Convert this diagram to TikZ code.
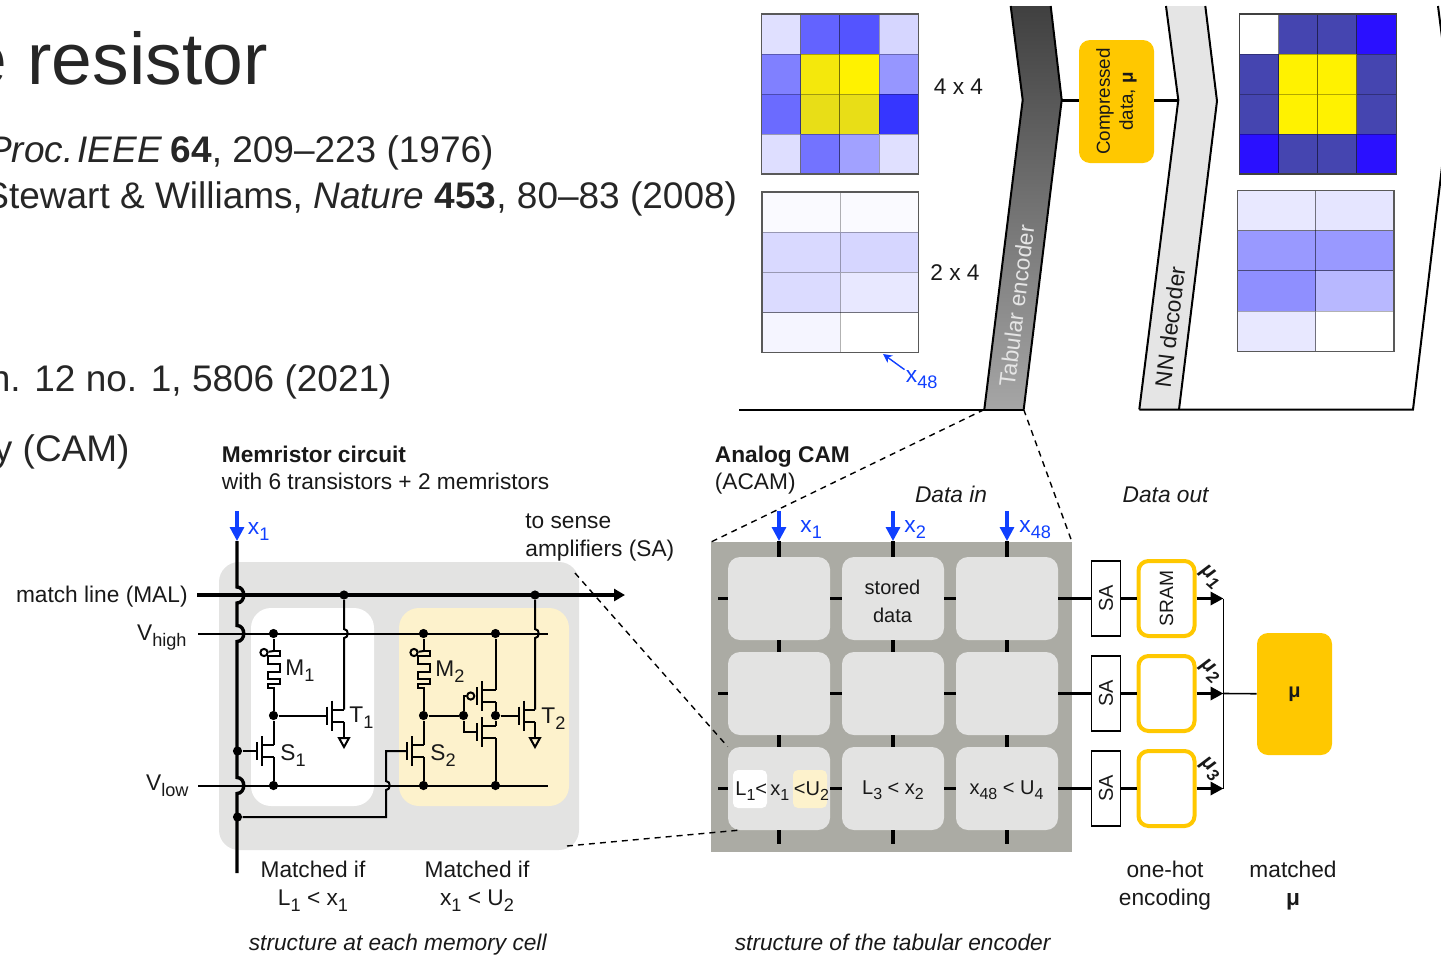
\documentclass[tikz,border=0pt]{standalone}
\usepackage{fontspec}
\setmainfont{Liberation Sans}
\usetikzlibrary{arrows.meta}

\definecolor{arrowblue}{HTML}{1040FF}
\definecolor{camgold}{HTML}{FFC800}
\definecolor{cellpale}{HTML}{FDF2CC}
\definecolor{cellgray}{HTML}{E3E3E2}
\definecolor{panelgray}{HTML}{ABABA4}
\definecolor{deepblue}{HTML}{4545B0}
\definecolor{vividblue}{HTML}{2A10FF}

\tikzset{
  txt/.style={inner sep=0pt,text=black!90,font=\fontsize{11.35}{14}\selectfont},
  smalltxt/.style={txt,font=\fontsize{10}{14}\selectfont},
  slide/.style={inner sep=0pt,text=black!85,font=\fontsize{18.5}{22}\selectfont},
  wire/.style={line width=1pt},
  bus/.style={line width=1.7pt},
  dot/.style={circle,fill=black,inner sep=0pt,minimum size=4.6pt},
  ring/.style={circle,draw,wire,inner sep=0pt,minimum size=3.6pt},
  cell/.style={rounded corners=6pt,fill=cellgray,inner sep=0pt,minimum width=51pt,minimum height=41.5pt},
  sabox/.style={draw,line width=0.9pt,fill=white,inner sep=0pt,minimum width=14.5pt,minimum height=37.5pt},
  srambox/.style={draw=camgold,line width=2pt,rounded corners=5pt,fill=white,inner sep=0pt,minimum width=28pt,minimum height=37.5pt},
  goldbox/.style={fill=camgold,rounded corners=5.5pt,inner sep=0pt,txt},
  bluein/.style={arrowblue,line width=1.6pt,-{Triangle[length=7pt,width=7pt]}},
  outarrow/.style={bus,-{Triangle[length=6.5pt,width=6.5pt]}},
  zoomline/.style={line width=0.7pt,dash pattern=on 3pt off 2.5pt}
}

% lowered index, larger than a plain subscript
\newcommand{\low}[1]{\raisebox{-0.5ex}{\scalebox{0.8}{#1}}}
% gate bar, channel and the two leads: name, channel x, centre y, lead x
\newcommand{\fet}[4]{
  \coordinate (#1g) at (#2-5.5,#3);
  \coordinate (#1d) at (#4,#3-6);
  \coordinate (#1s) at (#4,#3+6);
  \draw[wire] (#2-5.5,#3-9) -- (#2-5.5,#3+9);
  \draw[wire] (#2,#3-15) -- (#2,#3+15);
  \draw[wire] (#2,#3-6) -- (#1d);
  \draw[wire] (#2,#3+6) -- (#1s);
}
% memristor between two junctions at the same x
\newcommand{\memr}[2]{
  \node[ring] (#1ring) at (#2-9.5,652.5) {};
  \draw[wire] (#1top) -- (#2,651) -- (#2+6,651) -- (#2+6,656) -- (#2-6,656) -- (#2-6,664)
    -- (#2+6,664) -- (#2+6,672) -- (#2-6,672) -- (#2-6,679) -- (#2+6,679) -- (#2+6,684)
    -- (#2-6,684) -- (#2-6,688) -- (#2,688) -- (#1mid);
  \draw[wire] (#1ring) -- (#2,651);
}
% ground mark under a lead
\newcommand{\gnd}[2]{
  \draw[wire] (#2) -- (#1,738);
  \draw[wire] (#1-5,738) -- (#1+5,738) -- (#1,747) -- cycle;
}
% colour grid: left, top, cell width, cell height, rows
\newcommand{\heatmap}[5]{
  \foreach \row [count=\j from 0] in {#5}
    \foreach \shade [count=\i from 0] in \row
      \filldraw[fill=\shade,draw=black,draw opacity=0.3,line width=0.45pt]
        (#1+\i*#3,#2+\j*#4) rectangle (#1+\i*#3+#3,#2+\j*#4+#4);
}

\begin{document}
\begin{tikzpicture}[x=0.5pt,y=-0.5pt]
\useasboundingbox (0,0) rectangle (1441,954);
\clip (0,0) rectangle (1441,954);

% slide text behind the figure
\node[slide,font=\fontsize{36.6}{40}\selectfont,anchor=base east] (title) at (268,84) {e resistor};
\node[slide,anchor=base east] (refp) at (74,162) {\textit{Proc.}};
\node[slide,anchor=base east] (refa) at (494,162) {\textit{IEEE}\hspace{-0.05em} \textbf{64}, 209–223 (1976)};
\node[slide,anchor=base east] (refb) at (737.5,208) {Stewart \& Williams, \textit{Nature} \textbf{453}, 80–83 (2008)};
\node[slide,anchor=base east] (refc) at (392,391) {n. 12 no. 1, 5806 (2021)};
\node[slide,anchor=base east] (refd) at (130,461) {y (CAM)};

% heat maps
\heatmap{761.5}{14}{39.2}{40}{{blue!12,blue!61,blue!67,blue!16},{blue!50,yellow!95!black,yellow,blue!41},{blue!58,yellow!90!black,yellow!90!black,blue!79},{blue!13,blue!55,blue!37,blue!12}}
\draw[black!65,line width=0.6pt] (761.5,14) rectangle (918.3,174);
\heatmap{762}{192}{78.2}{40.2}{{blue!2,blue!2},{blue!15,blue!16},{blue!14,blue!9},{blue!4,white}}
\draw[black!65,line width=0.6pt] (762,192) rectangle (918.4,352.8);
\heatmap{1239.3}{14}{39.2}{40}{{white,deepblue,deepblue,vividblue},{deepblue,yellow,yellow,deepblue},{deepblue,yellow,yellow,deepblue},{vividblue,deepblue,deepblue,vividblue}}
\draw[black!75,line width=0.6pt] (1239.3,14) rectangle (1396.1,174);
\heatmap{1237.5}{190.5}{78.2}{40.2}{{blue!9,blue!10},{blue!40,blue!40},{blue!44,blue!28},{blue!9,white}}
\draw[black!65,line width=0.6pt] (1237.5,190.5) rectangle (1393.9,351.3);

\node[txt,anchor=center] (dimA) at (958.5,86.5) {4 x 4};
\node[txt,anchor=center] (dimB) at (955,272.5) {2 x 4};
\node[txt,text=arrowblue,anchor=base west] (lblPix) at (905.5,382) {x\low{48}};
\coordinate (pixTip) at (883,354);
\draw[arrowblue,line width=0.7pt,-{Stealth[length=4.5pt,width=4.5pt]}] (lblPix.north west) ++(-1,0) -- (pixTip);

% encoder, decoder and the outline behind them
\coordinate (encBL) at (984.3,409.5);
\coordinate (encBR) at (1023.7,409.5);
\shade[top color=black!75,bottom color=black!35] (1010.7,6) -- (1050.7,6) -- (1061.7,100) -- (encBR) -- (encBL) -- (1022.7,100) -- cycle;
\draw[wire] (1010.7,6) -- (1022.7,100) -- (encBL);
\draw[wire] (1050.7,6) -- (1061.7,100) -- (encBR);
\node[txt,text=white!90!black,rotate=83] (encLbl) at (1016.5,306) {Tabular encoder};
\fill[black!10] (1166,6) -- (1205.3,6) -- (1217,101) -- (1179,409.5) -- (1139.3,409.5) -- (1178.3,100) -- cycle;
\draw[wire] (1166,6) -- (1178.3,100) -- (1139.3,409.5);
\draw[wire] (1205.3,6) -- (1217,101) -- (1179,409.5);
\node[txt,rotate=83] (decLbl) at (1170,327) {NN decoder};
\draw[wire] (1438,6) -- (1450,100) -- (1413,409.5) -- (1139.3,409.5);
\draw[wire] (739,409.5) -- (encBR);

\node[goldbox,minimum width=37.5pt,minimum height=61.5pt,align=center] (latent) at (1116.5,101.5) {};
\node[smalltxt,rotate=90,align=center,font=\fontsize{9.4}{11.5}\selectfont] (latentLbl) at (1116.5,101.5) {Compressed\\data, \textbf{μ}};
\coordinate (encTip) at (1061.7,100.5);
\coordinate (decNotch) at (1178.3,100.5);
\draw[bus] (encTip) -- (encTip -| latent.west);
\draw[bus] (latent.east |- decNotch) -- (decNotch);

% memory cell
\fill[cellgray,rounded corners=10pt] (219,562) rectangle (579,850);
\fill[white,rounded corners=10pt] (251,608) rectangle (374,806);
\fill[cellpale,rounded corners=10pt] (399,608) rectangle (569,806);

\node[txt,anchor=base west] (circA) at (221.5,462) {\textbf{Memristor circuit}};
\node[txt,anchor=base west] (circB) at (221.5,489) {with 6 transistors + 2 memristors};
\node[txt,anchor=west,align=left] (senseLbl) at (525,537.5) {to sense\\amplifiers (SA)};
\node[txt,anchor=east] (malLbl) at (188,597) {match line (MAL)};
\node[txt,anchor=base east] (highLbl) at (187,640) {V\low{high}};
\node[txt,anchor=base east] (lowLbl) at (189,790) {V\low{low}};

\coordinate (malA) at (197,595);
\coordinate (malB) at (625,595);
\coordinate (highA) at (198,633.5);
\coordinate (highB) at (548,633.5);
\coordinate (lowA) at (198,785.5);
\coordinate (lowB) at (548,785.5);
\draw[bus,-{Triangle[length=5.5pt,width=6pt]}] (malA) -- (malB);
\draw[wire] (highA) -- (highB);
\draw[wire] (lowA) -- (lowB);

% junctions
\node[dot] (malT1) at (344,595) {};
\node[dot] (malT2) at (535,595) {};
\node[dot] (M1top) at (273.5,633.5) {};
\node[dot] (M2top) at (423.5,633.5) {};
\node[dot] (highP) at (495.5,633.5) {};
\node[dot] (M1mid) at (273.5,715.5) {};
\node[dot] (M2mid) at (423.5,715.5) {};
\node[dot] (pairIn) at (463.5,715.5) {};
\node[dot] (pairOut) at (495.5,715.5) {};
\node[dot] (lowS1) at (273.5,785.5) {};
\node[dot] (lowS2) at (423.5,785.5) {};
\node[dot] (lowN) at (495.5,785.5) {};
\node[dot] (gateS1) at (237.5,751) {};
\node[dot] (gateS2) at (237.5,817) {};

% x1 column with its hops
\coordinate (xTop) at (237,511);
\coordinate (xHead) at (237,541);
\coordinate (xEnd) at (237,873);
\draw[bluein] (xTop) -- (xHead);
\node[txt,text=arrowblue,anchor=base west] (xLbl) at (247.5,534) {x\low{1}};
\draw[bus] (xHead) -- (237,587) .. controls (246,587) and (246,603) .. (237,603) -- (237,625.5)
  .. controls (246,625.5) and (246,641.5) .. (237,641.5) -- (237,777.5)
  .. controls (246,777.5) and (246,793.5) .. (237,793.5) -- (xEnd);

\memr{M1}{273.5}
\memr{M2}{423.5}
\fet{S1}{262}{751}{273.5}
\fet{S2}{412}{751}{423.5}
\fet{T1}{332}{715.5}{344}
\fet{T2}{524}{715.5}{535}
\fet{P}{482}{696}{495.5}
\fet{N}{482}{732}{495.5}
\node[ring] (Pring) at (470.7,696) {};

\draw[wire] (M1mid) -- (S1d);
\draw[wire] (S1s) -- (lowS1);
\draw[wire] (gateS1) -- (S1g);
\draw[wire] (M1mid) -- (T1g);
\draw[wire] (malT1) -- (344,629) .. controls (349,629) and (349,638) .. (344,638) -- (T1d);
\gnd{344}{T1s}
\draw[wire] (M2mid) -- (S2d);
\draw[wire] (S2s) -- (lowS2);
\draw[wire] (gateS2) -- (386,817) -- (386,790) .. controls (391,790) and (391,781) .. (386,781) -- (386,751) -- (S2g);
\draw[wire] (M2mid) -- (pairIn);
\draw[wire] (pairIn) -- (463.5,696) -- (Pring);
\draw[wire] (pairIn) -- (463.5,732) -- (Ng);
\draw[wire] (highP) -- (Pd);
\draw[wire] (Ps) -- (pairOut);
\draw[wire] (pairOut) -- (Nd);
\draw[wire] (Ns) -- (lowN);
\draw[wire] (pairOut) -- (T2g);
\draw[wire] (malT2) -- (535,629) .. controls (540,629) and (540,638) .. (535,638) -- (T2d);
\gnd{535}{T2s}

\node[txt,anchor=base west] (lblM1) at (285,675) {M\low{1}};
\node[txt,anchor=base west] (lblM2) at (435,676) {M\low{2}};
\node[txt,anchor=base west] (lblT1) at (349,722) {T\low{1}};
\node[txt,anchor=base west] (lblT2) at (541,723) {T\low{2}};
\node[txt,anchor=base west] (lblS1) at (280,760) {S\low{1}};
\node[txt,anchor=base west] (lblS2) at (430,760) {S\low{2}};

\node[txt,align=center] (matchA) at (313,886.5) {Matched if\\L\low{1} < x\low{1}};
\node[txt,align=center] (matchB) at (477,886.5) {Matched if\\x\low{1} < U\low{2}};
\node[txt,anchor=base] (capA) at (398,950) {\textit{structure at each memory cell}};

% tabular encoder
\fill[panelgray] (711,542) rectangle (1072,852);
\node[txt,anchor=base west] (camA) at (714.5,462) {\textbf{Analog CAM}};
\node[txt,anchor=base west] (camB) at (714.5,489) {(ACAM)};
\node[txt,anchor=base] (dataIn) at (951,502) {\textit{Data in}};
\node[txt,anchor=base] (dataOut) at (1166,502) {\textit{Data out}};

\foreach \c/\cx in {1/779,2/893,3/1007}
  \foreach \r/\cy in {1/598.5,2/693.5,3/788.5}
    \node[cell] (cell\r\c) at (\cx,\cy) {};

\node[smalltxt,align=center] (storedLbl) at (892.5,601) {stored\\data};
\node[smalltxt] (cellLblB) at (893,790) {L\low{3} < x\low{2}};
\node[smalltxt] (cellLblC) at (1006.5,790) {x\low{48} < U\low{4}};
\fill[white,rounded corners=2.5pt] (733,770) rectangle (767,808);
\fill[cellpale,rounded corners=2.5pt] (793,770) rectangle (827,808);
\node[smalltxt,anchor=base west] (camL) at (735,795) {L\low{1}<};
\node[smalltxt,anchor=base west] (camX) at (770,795) {x\low{1}};
\node[smalltxt,anchor=base west] (camU) at (793.5,795) {<U\low{2}};

\foreach \c/\cx in {1/779,2/893,3/1007} {
  \coordinate (in\c) at (\cx,511);
  \coordinate (head\c) at (\cx,541);
  \draw[bus] (head\c) -- (cell1\c);
  \draw[bluein] (in\c) -- (head\c);
  \draw[bus] (cell1\c) -- (cell2\c);
  \draw[bus] (cell2\c) -- (cell3\c);
  \draw[bus] (cell3\c.south) -- +(0,14);
}
\node[txt,text=arrowblue,anchor=base west] (xInA) at (800,532) {x\low{1}};
\node[txt,text=arrowblue,anchor=base west] (xInB) at (904,532) {x\low{2}};
\node[txt,text=arrowblue,anchor=base west] (xInC) at (1019,532) {x\low{48}};

% read-out columns
\foreach \r/\ry/\my in {1/598.5/577,2/693.5/671,3/788.5/769} {
  \node[sabox] (sa\r) at (1106,\ry) {};
  \node[txt,rotate=90,font=\fontsize{10}{12}\selectfont] (saLbl\r) at (sa\r) {SA};
  \node[srambox] (sram\r) at (1166.5,\ry) {};
  \coordinate (merge\r) at (1223.5,\ry);
  \draw[bus] (cell\r1.west) -- +(-10,0);
  \draw[bus] (cell\r1) -- (cell\r2);
  \draw[bus] (cell\r2) -- (cell\r3);
  \draw[bus] (cell\r3) -- (sa\r);
  \draw[bus] (sa\r) -- (sram\r);
  \draw[outarrow] (sram\r) -- (merge\r);
  \node[smalltxt,rotate=-42,font=\fontsize{10.5}{12}\selectfont\bfseries\itshape] (muLbl\r) at (1210,\my) {μ\low{\r}};
}
\node[smalltxt,rotate=90,font=\fontsize{9.6}{12}\selectfont] (sramLbl) at (sram1) {SRAM};
\node[goldbox,minimum width=37.5pt,minimum height=61pt,font=\fontsize{10}{12}\selectfont\bfseries] (muBox) at (1294.5,694) {μ};
\draw[line width=0.8pt] (merge1) -- (merge3);
\draw[line width=0.8pt] (merge2) -- (muBox);

\node[txt,align=center] (hotLbl) at (1165,885.5) {one-hot\\encoding};
\node[txt,align=center] (muLbl) at (1293,885.5) {matched\\\textbf{μ}};
\node[txt,anchor=base] (capB) at (893,950) {\textit{structure of the tabular encoder}};

% zoom guides
\coordinate (camTL) at (711,542);
\coordinate (camTR) at (1072,542);
\coordinate (cellTR) at (575,573);
\coordinate (cellBR) at (567,846);
\draw[zoomline] (encBL) -- (camTL);
\draw[zoomline] (encBR) -- (camTR);
\draw[zoomline] (cellTR) -- (cell31.north west);
\draw[zoomline] (cellBR) -- (741,830);
\end{tikzpicture}
\end{document}
